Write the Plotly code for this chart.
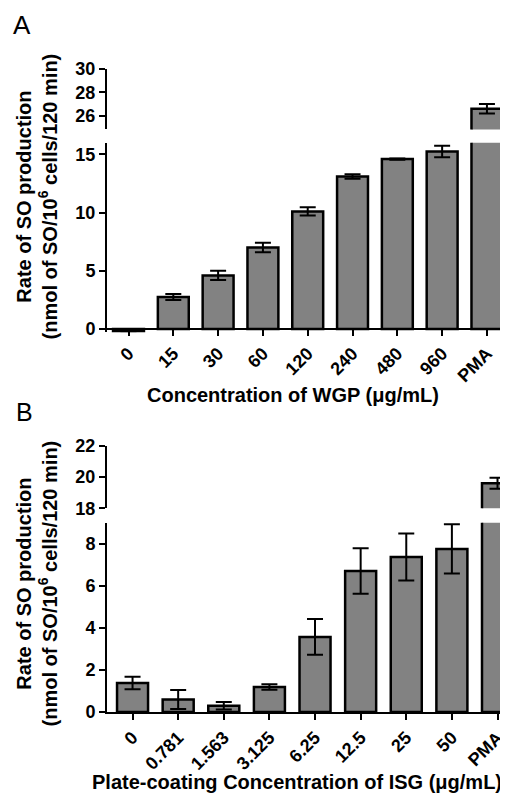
import plotly.graph_objects as go

# Panel A data
cat_a = ["0", "15", "30", "60", "120", "240", "480", "960", "PMA"]
val_a = [-0.2, 2.75, 4.6, 7.0, 10.1, 13.1, 14.6, 15.25, 26.6]
err_a = [0.0, 0.25, 0.4, 0.4, 0.35, 0.2, 0.05, 0.5, 0.4]

# Panel B data
cat_b = ["0", "0.781", "1.563", "3.125", "6.25", "12.5", "25", "50", "PMA"]
val_b = [1.38, 0.6, 0.3, 1.19, 3.57, 6.7, 7.37, 7.75, 19.6]
err_b = [0.3, 0.45, 0.18, 0.13, 0.85, 1.08, 1.12, 1.17, 0.35]

ticks_a_low = [0, 5, 10, 15]
ticks_a_up = [26, 28, 30]
ticks_b_low = [0, 2, 4, 6, 8]
ticks_b_up = [18, 20, 22]

# page body has an 8px margin; figure is sized so it ends at the window edge
OFF = 8
W, H = 508 - OFF, 802 - OFF
FONT = "Liberation Sans"
BAR = "#828282"


def px(x):
    return (x - OFF) / W


def py(y):
    return 1 - (y - OFF) / H


def bar(x, y, e, xa, ya, width):
    return go.Bar(
        x=x, y=y, xaxis=xa, yaxis=ya, width=width,
        marker=dict(color=BAR, line=dict(color="black", width=2.5)),
        error_y=dict(type="data", array=e, visible=True, color="black",
                     thickness=2, width=8),
        showlegend=False, hoverinfo="skip",
    )


fig = go.Figure()
fig.add_trace(bar(cat_a, val_a, err_a, "x", "y", 0.69))
fig.add_trace(bar(cat_a, val_a, err_a, "x", "y2", 0.69))
fig.add_trace(bar(cat_b, val_b, err_b, "x2", "y3", 0.68))
fig.add_trace(bar(cat_b, val_b, err_b, "x2", "y4", 0.68))

tickfont = dict(family=FONT, size=18, weight="bold", color="black")
common_y = dict(showline=True, linewidth=2, linecolor="black", ticks="outside",
                ticklen=6, tickwidth=2, tickcolor="black", showgrid=False,
                zeroline=False, tickfont=tickfont, fixedrange=True)
common_x = dict(type="category", showline=True, linewidth=2, linecolor="black",
                ticks="outside", ticklen=6, tickwidth=2, tickcolor="black",
                showgrid=False, zeroline=False, tickfont=tickfont, tickangle=-45,
                fixedrange=True)

fig.update_layout(
    width=W, height=H,
    margin=dict(l=0, r=0, t=0, b=0),
    paper_bgcolor="white", plot_bgcolor="white",
    bargap=0.3,
    xaxis=dict(domain=[px(107), 1], range=[-0.48, 8.47], anchor="free",
               position=py(327), **common_x),
    yaxis=dict(domain=[py(330.6), py(136)], range=[-0.3, 16],
               tickvals=ticks_a_low, anchor="x", **common_y),
    yaxis2=dict(domain=[py(122.3), py(60)], range=[24.85, 30],
                tickvals=ticks_a_up, anchor="x", **common_y),
    xaxis2=dict(domain=[px(107), 1], range=[-0.56, 8.23], anchor="y3",
                **common_x),
    yaxis3=dict(domain=[py(720), py(525.7)], range=[0, 9],
                tickvals=ticks_b_low, anchor="x2", **common_y),
    yaxis4=dict(domain=[py(511), py(446.7)], range=[18, 22],
                tickvals=ticks_b_up, anchor="x2", **common_y),
)

title_font = dict(family=FONT, size=20, weight="bold", color="black")
ytitle = "Rate of SO production<br>(nmol of SO/10<sup>6</sup> cells/120 min)"
ann = [
    dict(text="A", x=px(22), y=py(15), font=dict(family=FONT, size=26, color="black")),
    dict(text="B", x=px(24), y=py(412), font=dict(family=FONT, size=25, color="black")),
    dict(text=ytitle, x=px(37), y=py(191), textangle=-90, font=title_font),
    dict(text=ytitle, x=px(37), y=py(588), textangle=-90, font=title_font),
    dict(text="Concentration of WGP (\u03bcg/mL)", x=px(293), y=py(395), font=title_font),
    dict(text="Plate-coating Concentration of ISG (\u03bcg/mL)", x=px(297), y=py(792),
         font=title_font),
]
for a in ann:
    fig.add_annotation(xref="paper", yref="paper", showarrow=False,
                       xanchor="center", yanchor="middle", **a)

fig.write_html("out.html")
